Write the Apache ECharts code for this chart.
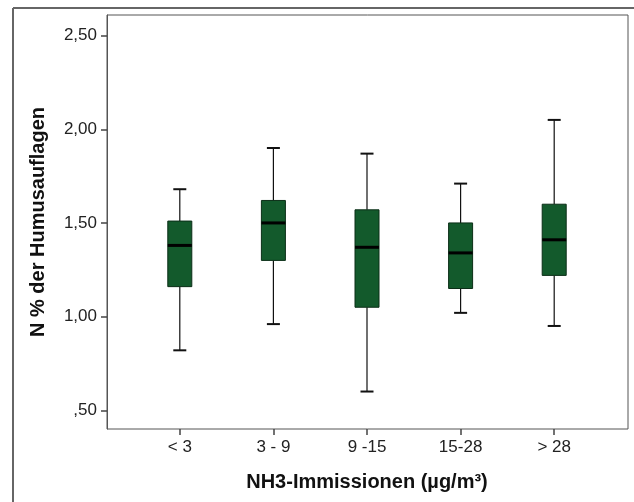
<!DOCTYPE html>
<html>
<head>
<meta charset="utf-8">
<script src="https://cdn.jsdelivr.net/npm/echarts@6/dist/echarts.min.js"></script>
<style>
  html, body { margin: 0; padding: 0; background: #fff; }
  #main { width: 634px; height: 502px; }
</style>
</head>
<body>
<div id="main"></div>
<script>
// NH3 classes and N % box statistics
var categories = ['< 3', '3 - 9', '9 -15', '15-28', '> 28'];
var lowerWhisker = [0.82, 0.96, 0.60, 1.02, 0.95];
var q1 = [1.16, 1.30, 1.05, 1.15, 1.22];
var median = [1.38, 1.50, 1.37, 1.34, 1.41];
var q3 = [1.51, 1.62, 1.57, 1.50, 1.60];
var upperWhisker = [1.68, 1.90, 1.87, 1.71, 2.05];
var yTicks = [0.5, 1.0, 1.5, 2.0, 2.5];

var font = '"Liberation Sans", Arial, sans-serif';

var boxData = categories.map(function (c, i) {
    return [i, lowerWhisker[i], q1[i], median[i], q3[i], upperWhisker[i]];
});

function fmt(v) {
    return v.toFixed(2).replace('.', ',').replace(/^0/, '');
}

function renderBox(params, api) {
    var i = api.value(0);
    var lo = api.coord([i, api.value(1)]);
    var b1 = api.coord([i, api.value(2)]);
    var md = api.coord([i, api.value(3)]);
    var b3 = api.coord([i, api.value(4)]);
    var hi = api.coord([i, api.value(5)]);
    var x = lo[0];
    var w = 24, cap = 13;
    var line = { stroke: '#111', lineWidth: 1.2 };
    var capStyle = { stroke: '#111', lineWidth: 2 };
    return {
        type: 'group',
        children: [
            { type: 'line', shape: { x1: x, y1: hi[1], x2: x, y2: b3[1] }, style: line },
            { type: 'line', shape: { x1: x, y1: b1[1], x2: x, y2: lo[1] }, style: line },
            { type: 'line', shape: { x1: x - cap / 2, y1: hi[1], x2: x + cap / 2, y2: hi[1] }, style: capStyle },
            { type: 'line', shape: { x1: x - cap / 2, y1: lo[1], x2: x + cap / 2, y2: lo[1] }, style: capStyle },
            { type: 'rect', shape: { x: x - w / 2, y: b3[1], width: w, height: b1[1] - b3[1] },
              style: { fill: '#135a2c', stroke: '#0b2e17', lineWidth: 1 } },
            { type: 'line', shape: { x1: x - w / 2, y1: md[1], x2: x + w / 2, y2: md[1] },
              style: { stroke: '#000', lineWidth: 3 } }
        ]
    };
}

var myChart = echarts.init(document.getElementById('main'), null, { renderer: 'canvas' });
var option = {
    backgroundColor: '#fff',
    animation: false,
    textStyle: { fontFamily: font },
    graphic: [
        { type: 'line', shape: { x1: 13, y1: 8, x2: 634, y2: 8 }, style: { stroke: '#666', lineWidth: 2 } },
        { type: 'line', shape: { x1: 13, y1: 8, x2: 13, y2: 502 }, style: { stroke: '#666', lineWidth: 2 } }
    ],
    grid: [
        { left: 107, right: 6, top: 15, bottom: 73, show: true, borderColor: '#555', borderWidth: 1, backgroundColor: '#fff' },
        { left: 133, right: 33, top: 15, bottom: 73 }
    ],
    xAxis: [
        { type: 'value', gridIndex: 0, show: false, min: 0, max: 1 },
        {
            type: 'category', gridIndex: 1, data: categories,
            name: 'NH3-Immissionen (µg/m³)', nameLocation: 'middle', nameGap: 43,
            nameTextStyle: { fontFamily: font, fontSize: 20, fontWeight: 'bold', color: '#111' },
            axisLine: { show: false },
            axisTick: { show: true, alignWithLabel: true, length: 6, lineStyle: { color: '#444', width: 1.5 } },
            axisLabel: { margin: 10, fontFamily: font, fontSize: 17, color: '#222' },
            splitLine: { show: false }
        }
    ],
    yAxis: [
        {
            type: 'value', gridIndex: 0, min: 0.4, max: 2.61,
            name: 'N % der Humusauflagen', nameLocation: 'middle', nameGap: 59,
            nameTextStyle: { fontFamily: font, fontSize: 20, fontWeight: 'bold', color: '#111' },
            axisLine: { show: true, lineStyle: { color: '#555', width: 1 } },
            axisTick: { show: true, length: 6, customValues: yTicks, lineStyle: { color: '#444', width: 1.5 } },
            axisLabel: { margin: 10, fontFamily: font, fontSize: 17, color: '#222', customValues: yTicks, formatter: fmt },
            splitLine: { show: false }
        },
        { type: 'value', gridIndex: 1, min: 0.4, max: 2.61, show: false, splitLine: { show: false } }
    ],
    series: [
        {
            type: 'custom',
            xAxisIndex: 1,
            yAxisIndex: 1,
            renderItem: renderBox,
            encode: { x: 0, y: [1, 2, 3, 4, 5] },
            data: boxData
        }
    ]
};
myChart.setOption(option);
</script>
</body>
</html>
